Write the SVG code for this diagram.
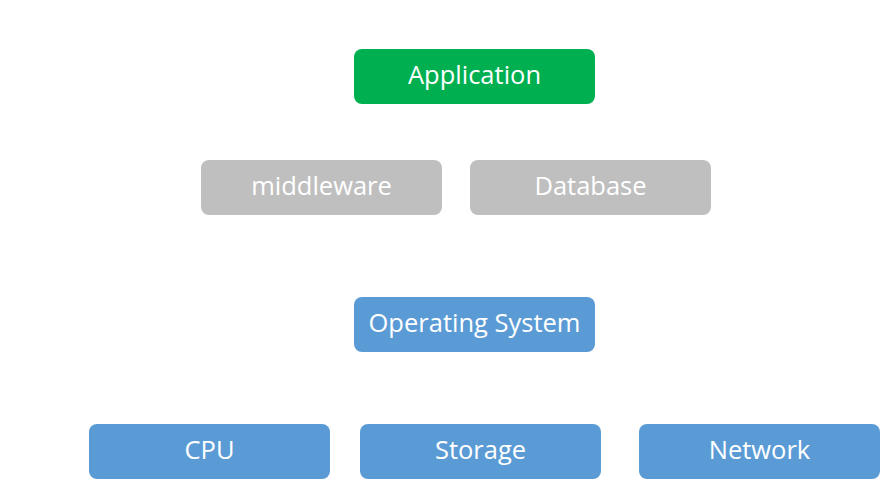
<svg xmlns="http://www.w3.org/2000/svg" width="886" height="489" viewBox="0 0 886 489">
<style>
.box{stroke:none}
.g{fill:#00B050}
.gr{fill:#BFBFBF}
.b{fill:#5B9BD5}
text{font-family:"Open Sans","Noto Sans",sans-serif;font-size:25.5px;fill:#FFFFFF;text-anchor:middle;dominant-baseline:central}
</style>
<rect width="886" height="489" fill="#FFFFFF"/>
<g id="application"><rect class="box g" x="354" y="49" width="241" height="55" rx="8"/><text x="474.5" y="74">Application</text></g>
<g id="middleware"><rect class="box gr" x="201" y="160" width="241" height="55" rx="8"/><text x="321.5" y="185">middleware</text></g>
<g id="database"><rect class="box gr" x="470" y="160" width="241" height="55" rx="8"/><text x="590.5" y="185">Database</text></g>
<g id="os"><rect class="box b" x="354" y="297" width="241" height="55" rx="8"/><text x="474.5" y="322">Operating System</text></g>
<g id="cpu"><rect class="box b" x="89" y="424" width="241" height="55" rx="8"/><text x="209.5" y="449">CPU</text></g>
<g id="storage"><rect class="box b" x="360" y="424" width="241" height="55" rx="8"/><text x="480.5" y="449">Storage</text></g>
<g id="network"><rect class="box b" x="639" y="424" width="241" height="55" rx="8"/><text x="759.5" y="449">Network</text></g>
<g id="connectors"></g>
</svg>
